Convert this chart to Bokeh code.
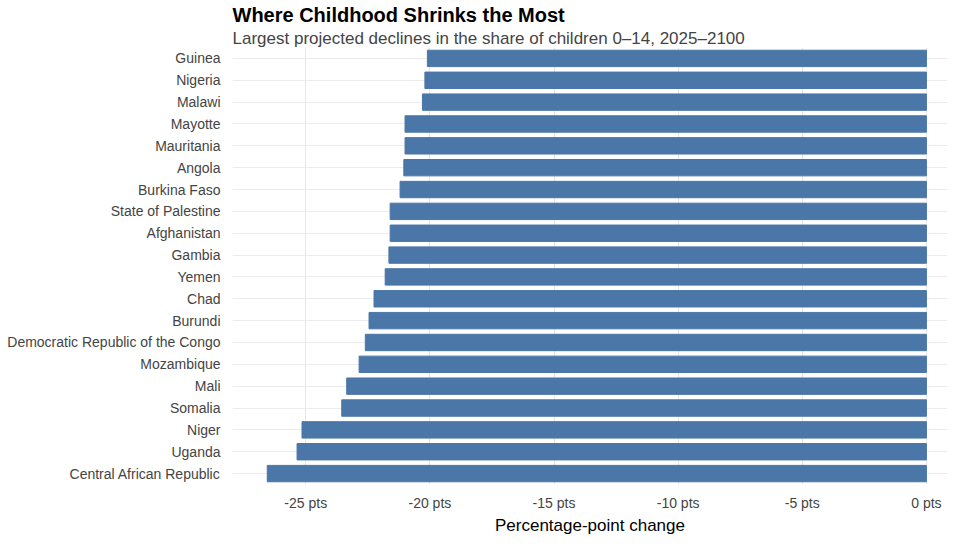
from bokeh.plotting import figure
from bokeh.models import Title, FactorRange, CustomJSTickFormatter, FixedTicker
from bokeh.embed import file_html
from bokeh.resources import INLINE

countries = ["Guinea","Nigeria","Malawi","Mayotte","Mauritania","Angola","Burkina Faso",
             "State of Palestine","Afghanistan","Gambia","Yemen","Chad","Burundi",
             "Democratic Republic of the Congo","Mozambique","Mali","Somalia","Niger",
             "Uganda","Central African Republic"]
change = [-20.1,-20.2,-20.3,-21.0,-21.0,-21.05,-21.2,-21.6,-21.6,-21.65,-21.8,-22.25,
          -22.45,-22.6,-22.85,-23.35,-23.55,-25.15,-25.35,-26.55]
ticks = [-25,-20,-15,-10,-5,0]

p = figure(width=961, height=537, y_range=FactorRange(*reversed(countries)),
           x_range=(-27.95, 0.85), output_backend="svg", toolbar_location=None,
           min_border_left=232, min_border_right=14, min_border_top=2, min_border_bottom=2)
p.hbar(y=countries, left=change, right=0, height=0.75, color="#4a76a8")
p.add_layout(Title(text="Largest projected declines in the share of children 0\u201314, 2025\u20132100",
                   text_font_size="17px", text_font_style="normal", text_color="#444444",
                   text_font="Liberation Sans", standoff=0), "above")
p.add_layout(Title(text="Where Childhood Shrinks the Most", text_font_size="20px",
                   text_font_style="bold", text_color="#000000",
                   text_font="Liberation Sans", standoff=2), "above")
p.xaxis.ticker = FixedTicker(ticks=ticks)
p.xaxis.formatter = CustomJSTickFormatter(code="return tick + ' pts';")
p.xaxis.axis_label = "Percentage-point change"
p.xaxis.axis_label_text_font_size = "17px"
p.xaxis.axis_label_text_font_style = "normal"
p.xaxis.axis_label_text_color = "#000000"
p.xaxis.axis_label_standoff = 2
p.xaxis.major_label_standoff = 4
for ax in (p.xaxis, p.yaxis):
    ax.axis_line_color = None
    ax.major_tick_line_color = None
    ax.minor_tick_line_color = None
    ax.major_label_text_font_size = "14px"
    ax.major_label_text_color = "#444444"
    ax.major_label_text_font = "Liberation Sans"
p.yaxis.major_label_standoff = 6
p.xaxis.axis_label_text_font = "Liberation Sans"
p.xgrid.grid_line_color = "#e6e6e6"
p.ygrid.grid_line_color = "#ececec"
p.outline_line_color = None
open("out.html", "w").write(file_html(p, INLINE))
